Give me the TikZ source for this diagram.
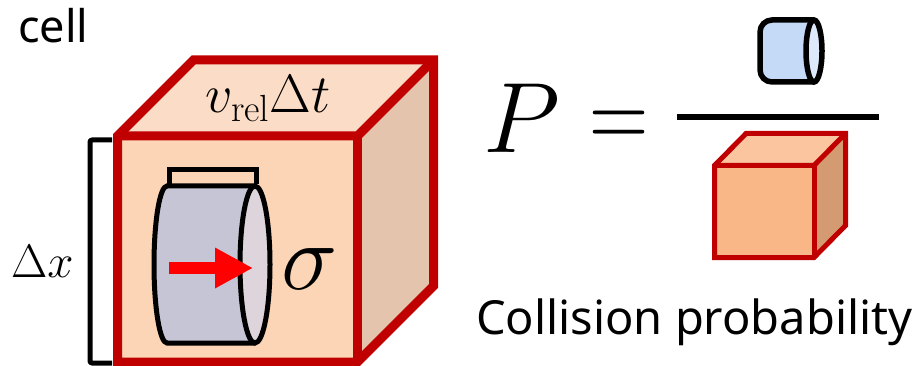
\RequirePackage{fix-cm}
\documentclass[tikz,border=0pt]{standalone}
\usepackage{fontspec}
\newfontfamily\labelfont{Noto Sans}
\usetikzlibrary{arrows.meta}
\definecolor{edgered}{HTML}{C00000}
\definecolor{bigfront}{HTML}{FBD5B5}
\definecolor{bigtop}{HTML}{FBDCC6}
\definecolor{bigright}{HTML}{E4C4AC}
\definecolor{smallfront}{HTML}{F9B787}
\definecolor{smalltop}{HTML}{FBC59F}
\definecolor{smallright}{HTML}{D49B72}
\definecolor{cylbody}{HTML}{C5C5D5}
\definecolor{cylface}{HTML}{DDD4DC}
\definecolor{smallbody}{HTML}{C5DAF6}
\definecolor{smallface}{HTML}{DDE8FA}
\definecolor{arrowred}{HTML}{FF0000}
\tikzset{
  bigedge/.style={draw=edgered, line width=9pt, line join=miter},
  smalledge/.style={draw=edgered, line width=5pt, line join=miter},
  blackline/.style={draw=black, line width=5pt, line join=round, line cap=round},
  mathlabel/.style={inner sep=0pt, text=black},
  wordlabel/.style={inner sep=0pt, text=black, font=\labelfont\fontsize{45}{54}\selectfont},
}
\begin{document}
\begin{tikzpicture}[x=1pt,y=-1pt]
\useasboundingbox (0,0) rectangle (915,366);

% ---------- big cell cube ----------
\coordinate (A) at (117.5,362);
\coordinate (B) at (117.5,136);
\coordinate (C) at (357.5,136);
\coordinate (D) at (357.5,362);
\coordinate (E) at (193.5,60);
\coordinate (F) at (433.5,60);
\coordinate (G) at (433.5,286);
\fill[bigtop] (B) -- (E) -- (F) -- (C) -- cycle;
\fill[bigright] (C) -- (F) -- (G) -- (D) -- cycle;
\fill[bigfront] (A) -- (B) -- (C) -- (D) -- cycle;
\draw[bigedge] (A) -- (B) -- (E) -- (F) -- (G) -- (D) -- cycle;
\draw[bigedge] (B) -- (C) -- (F);
\draw[bigedge] (C) -- (D);

% ---------- left bracket ----------
\coordinate (lb1) at (112,140);
\coordinate (lb2) at (90,140);
\coordinate (lb3) at (90,363);
\coordinate (lb4) at (112,363);
\draw[blackline, line cap=butt, rounded corners=2pt] (lb1) -- (lb2) -- (lb3) -- (lb4);

% ---------- big cylinder ----------
\coordinate (cb1) at (255,186);
\coordinate (cb2) at (167,186);
\coordinate (cb3) at (255,343);
\filldraw[fill=cylbody, draw=black, line width=5pt]
  (cb1) -- (cb2) arc[start angle=90, end angle=270, x radius=13pt, y radius=78.5pt] -- (cb3);
\filldraw[fill=cylface, draw=black, line width=5pt] (255,264.5) ellipse[x radius=15pt, y radius=78.5pt];

% bracket above the cylinder
\coordinate (tb1) at (169.5,184);
\coordinate (tb2) at (169.5,170);
\coordinate (tb3) at (256,170);
\coordinate (tb4) at (256,184);
\draw[blackline, line cap=butt, line join=miter] (tb1) -- (tb2) -- (tb3) -- (tb4);

% red arrow
\coordinate (ar1) at (169,268);
\coordinate (ar2) at (253,268);
\draw[arrowred, line width=12pt, -{Triangle[length=38pt, width=38pt]}] (ar1) -- (ar2);

% ---------- labels of the cell ----------
\node[wordlabel, anchor=base west] (cell) at (18,43) {cell};
\node[mathlabel, anchor=base] (vrel) at (268,113) {\fontsize{54}{60}\selectfont$v_{\mathrm{rel}}\Delta t$};
\node[mathlabel, anchor=base west] (dx) at (11,277) {\fontsize{47}{54}\selectfont$\Delta x$};
\node[mathlabel, anchor=base west] (sigma) at (281,289) {\fontsize{95}{100}\selectfont$\sigma$};

% ---------- equation ----------
\node[mathlabel, anchor=base west] (P) at (483,153) {\fontsize{100}{110}\selectfont$P$};
\node[mathlabel, anchor=base, xscale=0.76, transform shape] (eq) at (619,150) {\fontsize{108}{110}\selectfont$\mathbf{=}$};
\coordinate (fr1) at (677,117);
\coordinate (fr2) at (879,117);
\draw[black, line width=6pt] (fr1) -- (fr2);

% small cylinder (numerator)
\filldraw[fill=smallbody, draw=black, line width=5.5pt, rounded corners=12pt]
  (814,20) -- (760,20) -- (760,82) -- (814,82);
\filldraw[fill=smallface, draw=black, line width=5.5pt] (814,51) ellipse[x radius=8pt, y radius=31pt];

% small cube (denominator)
\coordinate (a) at (714.5,257.5);
\coordinate (b) at (714.5,165.5);
\coordinate (c) at (814,165.5);
\coordinate (d) at (814,257.5);
\coordinate (e) at (746,133.5);
\coordinate (f) at (845.5,133.5);
\coordinate (g) at (845.5,225.5);
\fill[smalltop] (b) -- (e) -- (f) -- (c) -- cycle;
\fill[smallright] (c) -- (f) -- (g) -- (d) -- cycle;
\fill[smallfront] (a) -- (b) -- (c) -- (d) -- cycle;
\draw[smalledge] (a) -- (b) -- (e) -- (f) -- (g) -- (d) -- cycle;
\draw[smalledge] (b) -- (c) -- (f);
\draw[smalledge] (c) -- (d);

\node[wordlabel, anchor=base west, font=\labelfont\fontsize{47}{56}\selectfont] (prob) at (476,334) {Collision probability};
\end{tikzpicture}
\end{document}
